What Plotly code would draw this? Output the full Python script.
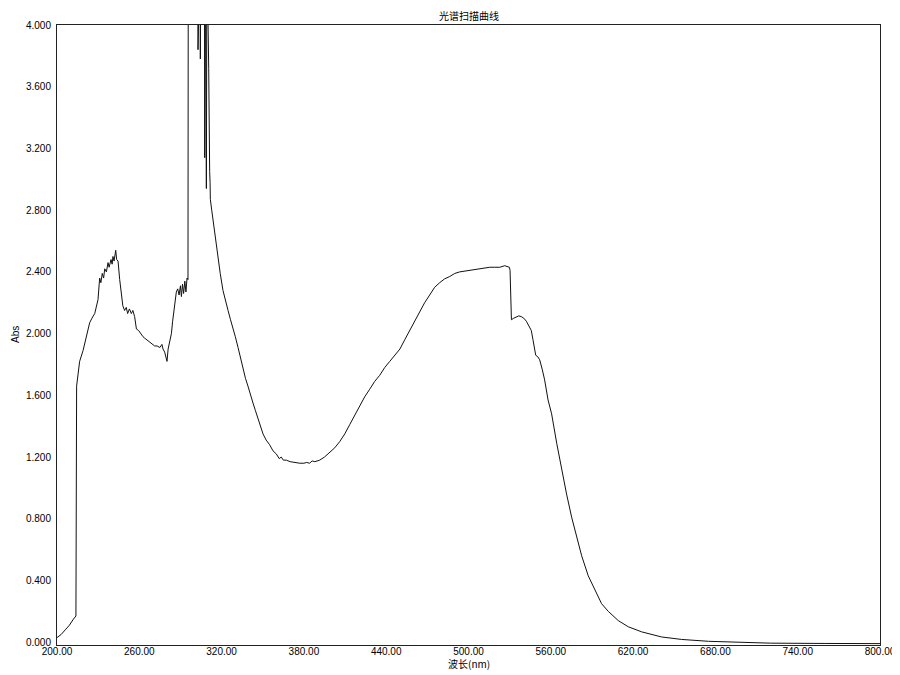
import plotly.graph_objects as go

# wavelength (nm) and absorbance; values above 4 are off-scale
wavelength = [
    200.0, 203.0, 206.0, 209.0, 212.0, 213.8, 214.3, 216.5, 219.0, 221.4,
    223.8, 225.5, 227.5, 229.9, 231.1, 232.0, 233.0, 234.0, 234.8, 236.0,
    237.2, 238.0, 239.4, 240.2, 240.8, 241.6, 242.8, 243.5, 244.5, 245.7,
    246.9, 248.0, 249.3, 250.5, 251.5, 252.8, 254.2, 255.3, 256.6, 257.9,
    259.5, 261.0, 262.7, 264.0, 265.5, 267.6, 269.5, 271.2, 273.0, 275.0,
    276.5, 277.3, 278.5, 279.3, 280.2, 281.0, 282.2, 283.4, 284.3, 285.3,
    286.2, 287.0, 288.0, 289.0, 290.0, 290.7, 291.5, 292.3, 293.2, 294.0,
    294.8, 295.5, 295.7, 302.5, 302.8, 303.2, 304.3, 304.5, 304.8, 307.5,
    307.7, 308.2, 308.9, 309.3, 310.6, 310.8, 311.0, 311.3, 311.6, 311.8,
    312.8, 313.7, 315.0, 316.2, 317.4, 319.0, 321.0, 322.5, 324.7, 326.5,
    328.3, 330.0, 332.0, 333.8, 335.6, 337.4, 339.2, 341.0, 342.9, 344.7,
    346.5, 348.3, 350.2, 352.5, 355.0, 357.5, 359.9, 362.0, 363.5, 365.0,
    367.2, 370.0, 373.0, 377.0, 380.0, 382.0, 384.2, 386.0, 388.0, 391.5,
    395.0, 398.8, 402.5, 406.1, 409.8, 413.4, 417.0, 420.7, 424.3, 428.0,
    431.6, 435.3, 438.9, 442.6, 446.3, 450.0, 453.5, 457.1, 460.8, 464.4,
    468.0, 471.7, 475.3, 479.0, 482.6, 486.3, 490.0, 493.6, 497.3, 500.9,
    504.5, 508.2, 511.8, 515.5, 519.2, 522.8, 526.4, 529.8, 530.3, 531.3,
    533.0, 534.9, 536.7, 538.5, 540.3, 542.2, 544.0, 545.8, 547.0, 547.5,
    549.0, 550.5, 551.9, 553.7, 555.5, 558.0, 560.6, 564.3, 567.9, 571.5,
    575.2, 578.8, 582.5, 587.3, 592.2, 597.0, 601.9, 609.2, 616.5, 626.3,
    640.8, 655.4, 675.0, 697.7, 720.0, 760.0, 800.0,
]

absorbance = [
    0.03, 0.05, 0.08, 0.11, 0.15, 0.17, 1.66, 1.82, 1.89, 1.98,
    2.07, 2.10, 2.13, 2.22, 2.36, 2.33, 2.39, 2.36, 2.42, 2.40,
    2.46, 2.43, 2.48, 2.45, 2.50, 2.47, 2.54, 2.48, 2.47, 2.35,
    2.24, 2.18, 2.15, 2.17, 2.13, 2.16, 2.13, 2.15, 2.11, 2.03,
    2.02, 2.00, 1.98, 1.97, 1.96, 1.94, 1.93, 1.92, 1.92, 1.91,
    1.93, 1.90, 1.88, 1.85, 1.82, 1.90, 1.96, 2.00, 2.08, 2.15,
    2.22, 2.27, 2.29, 2.25, 2.31, 2.24, 2.32, 2.26, 2.34, 2.27,
    2.36, 2.35, 4.50, 4.50, 3.84, 4.50, 4.50, 3.78, 4.50, 4.50,
    3.14, 4.50, 2.94, 4.50, 3.72, 3.30, 3.55, 3.05, 2.98, 2.87,
    2.80, 2.74, 2.66, 2.57, 2.48, 2.39, 2.28, 2.22, 2.15, 2.09,
    2.04, 1.98, 1.91, 1.84, 1.76, 1.71, 1.66, 1.60, 1.55, 1.50,
    1.45, 1.40, 1.35, 1.31, 1.28, 1.24, 1.22, 1.19, 1.20, 1.18,
    1.18, 1.17, 1.165, 1.16, 1.16, 1.165, 1.16, 1.175, 1.17, 1.18,
    1.20, 1.23, 1.26, 1.30, 1.35, 1.41, 1.47, 1.53, 1.59, 1.64,
    1.69, 1.73, 1.78, 1.82, 1.86, 1.90, 1.96, 2.02, 2.08, 2.14,
    2.20, 2.25, 2.30, 2.33, 2.355, 2.37, 2.39, 2.40, 2.405, 2.41,
    2.415, 2.42, 2.425, 2.43, 2.43, 2.43, 2.44, 2.43, 2.41, 2.09,
    2.10, 2.11, 2.115, 2.11, 2.10, 2.08, 2.05, 2.02, 1.96, 1.94,
    1.86, 1.85, 1.83, 1.77, 1.70, 1.57, 1.48, 1.29, 1.12, 0.96,
    0.81, 0.68, 0.56, 0.43, 0.34, 0.25, 0.20, 0.14, 0.10, 0.067,
    0.034, 0.018, 0.006, -0.002, -0.006, -0.008, -0.009,
]

x_ticks = [200, 260, 320, 380, 440, 500, 560, 620, 680, 740, 800]
y_ticks = [0.0, 0.4, 0.8, 1.2, 1.6, 2.0, 2.4, 2.8, 3.2, 3.6, 4.0]

tick_font = dict(family="Liberation Sans, Arial, sans-serif", size=10, color="#000000")
cjk_font = dict(family="Noto Sans CJK SC, sans-serif", size=10, color="#000000")

fig = go.Figure()
fig.add_trace(go.Scatter(
    x=wavelength, y=absorbance,
    mode="lines",
    line=dict(color="#111111", width=1),
    showlegend=False,
))

axis_common = dict(
    showgrid=False,
    zeroline=False,
    showline=True,
    linecolor="#222222",
    linewidth=1,
    mirror=True,
    ticks="",
    tickfont=tick_font,
    automargin=False,
)

fig.update_xaxes(
    range=[200, 800],
    tickvals=x_ticks,
    ticktext=["%.2f" % v for v in x_ticks],
    ticklabelstandoff=-3,
    **axis_common,
)
fig.update_yaxes(
    range=[-0.018, 4.0],
    tickvals=y_ticks,
    ticktext=["%.3f" % v for v in y_ticks],
    ticklabelstandoff=3,
    **axis_common,
)

fig.add_annotation(text="光谱扫描曲线", xref="paper", yref="paper",
                   x=0.5, y=1, yshift=10, showarrow=False, font=cjk_font,
                   xanchor="center", yanchor="middle")
fig.add_annotation(text="波长(nm)", xref="paper", yref="paper",
                   x=0.5, y=0, yshift=-18, showarrow=False, font=cjk_font,
                   xanchor="center", yanchor="middle")
fig.add_annotation(text="Abs", xref="paper", yref="paper",
                   x=0, xshift=-42, y=0.5, showarrow=False, font=tick_font,
                   textangle=-90, xanchor="center", yanchor="middle")

# the page body adds an 8px offset, so the figure is sized to leave room for it
fig.update_layout(
    width=892, height=667,
    margin=dict(l=49, r=20, t=17, b=30),
    paper_bgcolor="white",
    plot_bgcolor="white",
)

fig.write_html("out.html")
